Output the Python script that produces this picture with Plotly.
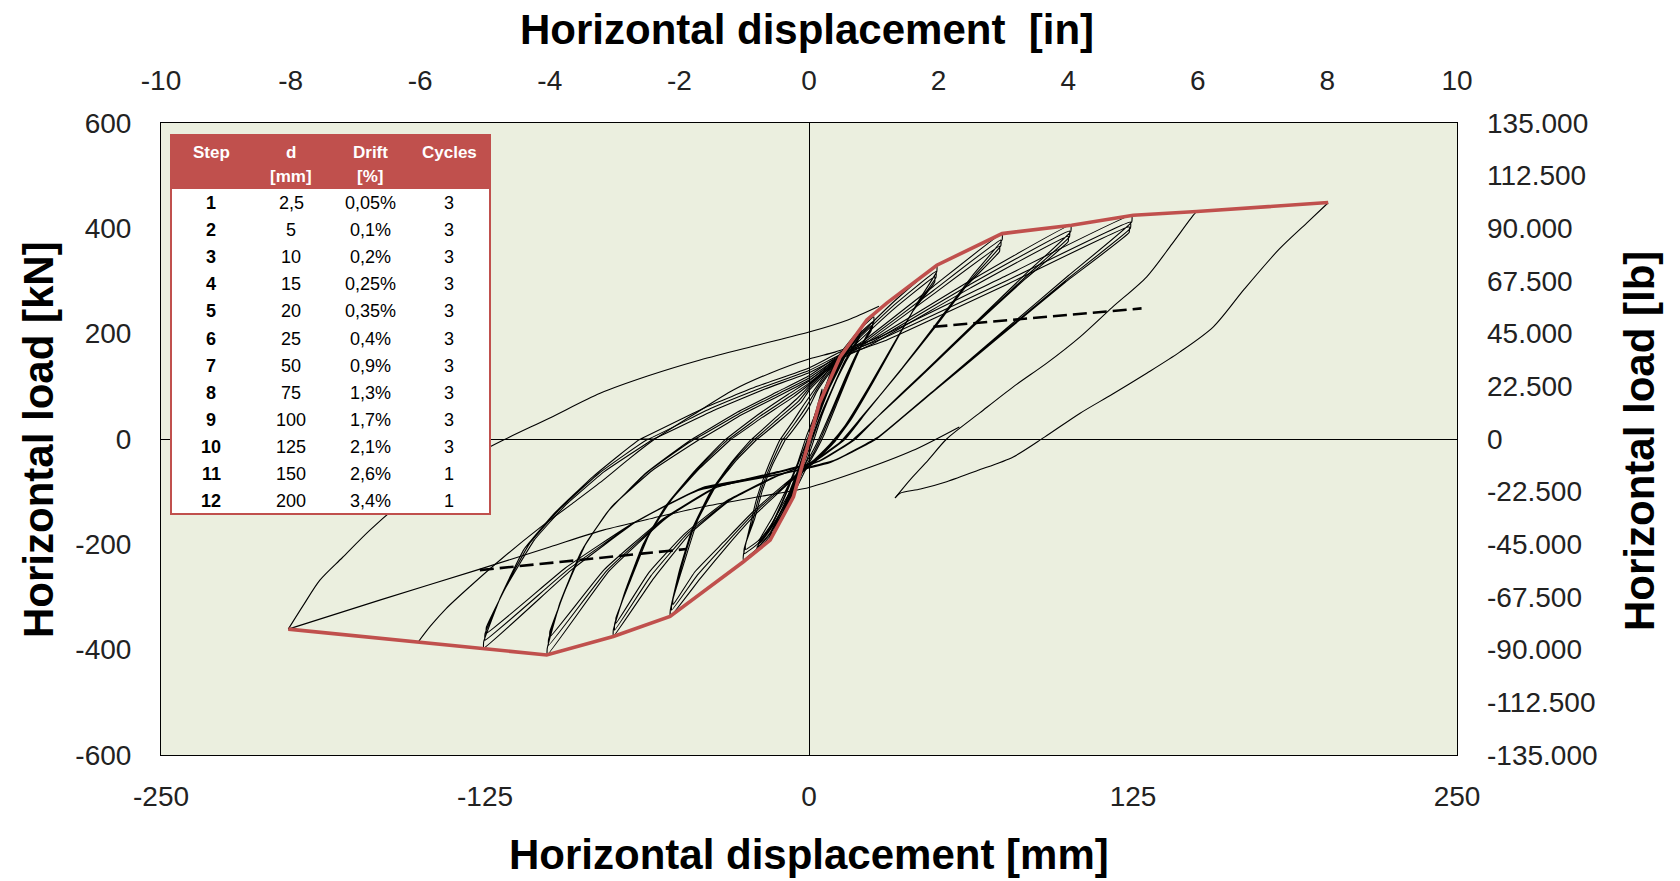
import plotly.graph_objects as go

# ---------------------------------------------------------------------------
# Axis ticks
# ---------------------------------------------------------------------------
MM_TICKS = [-250, -125, 0, 125, 250]
MM_LABELS = ["-250", "-125", "0", "125", "250"]
IN_TICKS = [-10, -8, -6, -4, -2, 0, 2, 4, 6, 8, 10]
IN_LABELS = ["-10", "-8", "-6", "-4", "-2", "0", "2", "4", "6", "8", "10"]
KN_TICKS = [-600, -400, -200, 0, 200, 400, 600]
KN_LABELS = ["-600", "-400", "-200", "0", "200", "400", "600"]
LB_TICKS = [-135000, -112500, -90000, -67500, -45000, -22500, 0,
            22500, 45000, 67500, 90000, 112500, 135000]
LB_LABELS = ["-135.000", "-112.500", "-90.000", "-67.500", "-45.000", "-22.500", "0",
             "22.500", "45.000", "67.500", "90.000", "112.500", "135.000"]

# ---------------------------------------------------------------------------
# Loading protocol table
# ---------------------------------------------------------------------------
TABLE_HEAD_1 = ["Step", "d", "Drift", "Cycles"]
TABLE_HEAD_2 = ["", "[mm]", "[%]", ""]
STEP_NO = ["1", "2", "3", "4", "5", "6", "7", "8", "9", "10", "11", "12"]
STEP_D = ["2,5", "5", "10", "15", "20", "25", "50", "75", "100", "125", "150", "200"]
STEP_DRIFT = ["0,05%", "0,1%", "0,2%", "0,25%", "0,35%", "0,4%", "0,9%", "1,3%",
              "1,7%", "2,1%", "2,6%", "3,4%"]
STEP_CYCLES = ["3", "3", "3", "3", "3", "3", "3", "3", "3", "3", "1", "1"]

# ---------------------------------------------------------------------------
# Envelope (mm, kN)
# ---------------------------------------------------------------------------
ENV_X = [-200.9, -150.7, -125.7, -101.2, -75.5, -53.6, -25.3, -15.0, -6.0, 0.0,
         4.0, 12.0, 22.3, 30.0, 49.3, 74.5, 101.3, 125.1, 149.6, 200.3]
ENV_Y = [-361, -385, -397, -410, -375, -337, -233, -192, -110, -5,
         68, 156, 226, 258, 330, 390, 406, 425, 432, 449]

# Residual-strength dashed lines (mm, kN)
DASH_POS_X = [48.0, 128.3]
DASH_POS_Y = [213, 248]
DASH_NEG_X = [-127.0, -47.3]
DASH_NEG_Y = [-249, -209]

# ---------------------------------------------------------------------------
# Hysteresis cycles (mm, kN)
# ---------------------------------------------------------------------------
STEP_2_5 = [(0, 0), (1.2, 25), (2.5, 48), (2.5, 44), (0, 0), (-1.2, -22), (-2.5, -45),
            (-2.5, -41), (0, 0), (1.2, 22), (2.4, 44), (2.4, 40), (0, -3), (-2.4, -41),
            (-2.4, -37), (0, 0)]

STEP_5 = [(0, 0), (2.5, 48), (5, 95), (5, 89), (2, 42), (-1, -12), (-3, -55), (-5, -92),
          (-5, -86), (-2, -38), (1, 15), (3, 58), (4.9, 89), (4.9, 83), (2, 35), (-1, -18),
          (-3, -58), (-4.9, -86), (-4.9, -80), (-2, -30), (0, 0)]

STEP_10 = [(0, 0), (4, 66), (10, 148), (10, 141), (6, 96), (2, 35), (-2, -32), (-6, -95),
           (-10, -150), (-10, -143), (-6, -90), (-2, -28), (2, 36), (6, 95), (9.8, 142),
           (9.8, 135), (5, 78), (1, 12), (-3, -48), (-7, -105), (-9.8, -143), (-9.8, -136),
           (-5, -72), (0, 0)]

STEP_15 = [(0, 0), (4, 66), (9, 125), (15, 180), (15, 172), (10, 128), (5, 65), (0, -5),
           (-5, -85), (-10, -145), (-15, -190), (-15, -182), (-10, -132), (-5, -70), (0, 5),
           (5, 72), (10, 130), (14.5, 172), (14.5, 165), (9, 112), (4, 50), (-1, -18),
           (-6, -92), (-11, -148), (-14.5, -182), (-14.5, -175), (-9, -118), (-4, -55),
           (1, 10), (6, 80), (11, 135), (14, 165), (14, 158), (8, 98), (3, 35), (0, 0)]

STEP_20 = [(0, 0), (4, 70), (9, 128), (14, 170), (20, 208), (20, 200), (15, 158), (10, 105),
           (5, 45), (1, -15), (-4, -80), (-9, -135), (-14, -178), (-20, -212), (-20, -205),
           (-15, -170), (-10, -118), (-5, -55), (-1, 5), (4, 65), (9, 122), (14, 165),
           (19.5, 200), (19.5, 193), (14, 150), (9, 96), (4, 38), (0, -20), (-5, -85),
           (-10, -138), (-15, -178), (-19.5, -205), (-19.5, -198), (-14, -158), (-9, -104),
           (-4, -45), (0, 8), (5, 72), (10, 128), (15, 168), (19, 195), (19, 188), (14, 145),
           (8, 85), (3, 28), (-1, -25), (-6, -92), (-11, -140), (-16, -180), (-19, -198),
           (-19, -191), (-14, -148), (-8, -88), (-3, -30), (0, 0)]

STEP_25 = [(-11, 0), (-6, 35), (-2, 65), (3, 100), (8, 135), (14, 175), (19, 205), (25, 232),
           (25, 222), (21, 185), (16, 130), (11, 70), (6, 10), (3, -20), (-1, -55), (-5, -95),
           (-10, -140), (-15, -180), (-20, -208), (-25.3, -230), (-25.3, -220), (-23, -170),
           (-20, -110), (-16, -55), (-11, 0),
           (-10, 0), (-5, 33), (-1, 62), (3, 95), (8, 130), (14, 170), (19, 198), (24.5, 222),
           (24.5, 212), (20, 175), (15, 122), (10, 64), (5, 6), (2, -24), (-2, -58), (-6, -97),
           (-11, -140), (-16, -178), (-20, -200), (-25, -218), (-25, -208), (-22, -160),
           (-19, -104), (-15, -52), (-10, 0),
           (-9, 0), (-4, 31), (0, 60), (3, 90), (8, 126), (14, 165), (19, 193), (24, 215),
           (24, 206), (19, 168), (14, 116), (9, 58), (4, 2), (1, -27), (-3, -60), (-7, -98),
           (-12, -140), (-16, -175), (-20, -195), (-24.5, -210), (-24.5, -200), (-21, -152),
           (-18, -98), (-14, -48), (-9, 0)]

STEP_50 = [(-22, 0), (-13, 40), (-5, 75), (0, 100), (8, 140), (18, 190), (33, 262), (49.3, 330),
           (49.3, 318), (42, 260), (34, 190), (25, 110), (16, 35), (10, -5), (2, -45), (-8, -85),
           (-20, -140), (-31, -200), (-42, -265), (-53.5, -337), (-53.5, -325), (-50, -250),
           (-45, -170), (-38, -100), (-30, -45), (-22, 0),
           (-21, 0), (-12, 38), (-4, 72), (0, 96), (8, 136), (18, 185), (33, 255), (49, 318),
           (49, 307), (41, 250), (33, 182), (24, 104), (15, 30), (9, -8), (1, -47), (-9, -87),
           (-21, -140), (-32, -198), (-43, -258), (-53, -325), (-53, -314), (-49, -240),
           (-44, -162), (-37, -95), (-29, -42), (-21, 0),
           (-20, 0), (-11, 36), (-3, 70), (0, 92), (8, 132), (18, 180), (33, 248), (48.5, 308),
           (48.5, 298), (40, 242), (32, 175), (23, 98), (14, 26), (8, -10), (0, -48), (-10, -88),
           (-22, -140), (-33, -196), (-44, -252), (-52.5, -315), (-52.5, -305), (-48, -232),
           (-43, -155), (-36, -90), (-28, -40), (-20, 0)]

STEP_75 = [(-32, 0), (-20, 45), (-8, 85), (0, 110), (10, 150), (22, 190), (48, 290), (74.5, 390),
           (74.5, 378), (63, 310), (50, 225), (36, 135), (22, 50), (14, 0), (3, -40), (-12, -70),
           (-30, -115), (-46, -180), (-60, -265), (-75.5, -375), (-75.5, -363), (-71, -290),
           (-64, -200), (-55, -125), (-44, -60), (-32, 0),
           (-31, 0), (-19, 43), (-7, 82), (0, 106), (10, 146), (22, 186), (48, 282), (74, 378),
           (74, 367), (62, 300), (49, 216), (35, 128), (21, 45), (13, -3), (2, -42), (-13, -72),
           (-31, -117), (-47, -180), (-61, -260), (-75, -363), (-75, -352), (-70, -280),
           (-63, -192), (-54, -120), (-43, -57), (-31, 0),
           (-30, 0), (-18, 41), (-6, 80), (0, 103), (10, 143), (22, 182), (48, 275), (73.5, 366),
           (73.5, 356), (61, 292), (48, 208), (34, 122), (20, 40), (12, -6), (1, -44), (-14, -73),
           (-32, -118), (-48, -180), (-62, -255), (-74.5, -350), (-74.5, -340), (-69, -270),
           (-62, -185), (-53, -115), (-42, -55), (-30, 0)]

STEP_100 = [(-45, 0), (-28, 50), (-12, 90), (0, 120), (12, 160), (25, 190), (62, 300), (101, 406),
            (101, 394), (85, 320), (65, 225), (45, 130), (28, 50), (18, 0), (5, -40), (-12, -62),
            (-35, -90), (-55, -150), (-77, -250), (-101, -410), (-101, -398), (-96, -310),
            (-88, -215), (-78, -140), (-63, -65), (-45, 0),
            (-44, 0), (-27, 48), (-11, 88), (0, 116), (12, 156), (25, 186), (62, 293), (100.5, 395),
            (100.5, 384), (84, 310), (64, 218), (44, 124), (27, 45), (17, -3), (4, -42), (-13, -64),
            (-36, -92), (-56, -152), (-78, -250), (-100.5, -392), (-100.5, -381), (-95, -298),
            (-87, -206), (-77, -134), (-62, -62), (-44, 0),
            (-42, 0), (-26, 46), (-10, 86), (0, 112), (12, 152), (25, 182), (62, 286), (100, 385),
            (100, 375), (83, 302), (63, 212), (43, 118), (26, 40), (16, -5), (3, -44), (-14, -66),
            (-37, -94), (-57, -154), (-79, -248), (-100, -376), (-100, -366), (-94, -287),
            (-86, -198), (-76, -128), (-60, -58), (-42, 0)]

STEP_125 = [(-65, 0), (-40, 60), (-20, 100), (0, 135), (12, 165), (28, 195), (76, 310), (124.5, 425),
            (124.5, 412), (100, 310), (75, 205), (50, 100), (27, 5), (10, -40), (-10, -65),
            (-41, -92), (-66, -155), (-92, -250), (-125.5, -397), (-125.5, -385), (-119, -300),
            (-110, -210), (-98, -140), (-83, -70), (-65, 0),
            (-62, 0), (-38, 58), (-18, 98), (0, 130), (12, 160), (28, 190), (76, 300), (124, 412),
            (124, 400), (100, 305), (74, 198), (49, 95), (26, 0), (9, -42), (-11, -66),
            (-42, -95), (-67, -158), (-93, -248), (-125, -382), (-125, -370), (-118, -290),
            (-108, -200), (-96, -132), (-81, -65), (-62, 0),
            (-60, 0), (-36, 56), (-17, 95), (0, 126), (12, 156), (29, 186), (77, 295), (123.5, 403),
            (123.5, 392), (99, 298), (73, 192), (48, 90), (25, -3), (8, -45), (-12, -68),
            (-43, -98), (-68, -160), (-94, -245), (-124.5, -369), (-124.5, -358), (-117, -282),
            (-106, -192), (-94, -126), (-79, -62), (-60, 0)]

# Large-amplitude branches (steps 11 and 12)
BRANCH_NEG200_RELOAD = [(-200.9, -361), (-195, -315), (-188.7, -268), (-180, -225), (-169.4, -173),
                        (-157, -120), (-143.6, -71.5), (-130, -33), (-117.9, -2), (-100, 40),
                        (-80.6, 86.8), (-62, 120), (-42, 150), (-20, 178), (0, 203), (15, 226),
                        (27, 252)]
BRANCH_NEG150_RELOAD = [(-150.7, -385), (-146, -355), (-140, -322), (-130.8, -280), (-118, -225),
                        (-105, -173), (-92, -125), (-79.4, -78), (-70, -40), (-60, -2), (-45, 45),
                        (-29.2, 93), (-15, 125), (0, 152), (10, 165), (22, 185)]
BRANCH_POS200_UNLOAD = [(200.3, 448.6), (192, 410), (181.3, 360), (168, 285), (156, 213),
                        (143, 165), (130.3, 125), (117, 85), (104.6, 49), (91, 4), (78.8, -34),
                        (65, -60), (53.1, -81), (43, -95), (35.1, -103), (33.2, -112)]
BRANCH_POS150 = [(33.2, -112), (36, -95), (40, -72), (46, -40), (53.1, 0), (66, 50), (78.8, 99),
                 (92, 145), (104.6, 194), (117, 250), (130.3, 308), (140, 370), (148.3, 425),
                 (149.6, 431.6)]
BRANCH_TO_NEG200 = [(-200.9, -361), (-165, -305), (-128.2, -249), (-100, -205), (-79.4, -173),
                    (-60, -150), (-40.8, -128.5), (-20, -110), (0, -92), (20, -60), (40, -22),
                    (58, 23)]

CYCLE_PATHS = [STEP_2_5, STEP_5, STEP_10, STEP_15, STEP_20, STEP_25, STEP_50, STEP_75,
               STEP_100, STEP_125]
BRANCH_PATHS = [BRANCH_NEG200_RELOAD, BRANCH_NEG150_RELOAD, BRANCH_POS200_UNLOAD,
                BRANCH_POS150, BRANCH_TO_NEG200]

# ---------------------------------------------------------------------------
# Figure
# ---------------------------------------------------------------------------
W, H = 1680, 881
PL, PR, PT, PB = 161, 1457, 123, 755   # plot frame in pixels
RED = "#c0504d"
FONT = "Liberation Sans"


def px(x):
    return (x - PL) / (PR - PL)


def py(y):
    return (PB - y) / (PB - PT)


fig = go.Figure()


def add_path(path, smoothing):
    fig.add_trace(go.Scatter(
        x=[p[0] for p in path], y=[p[1] for p in path], mode="lines",
        line=dict(color="black", width=1.1, shape="spline", smoothing=smoothing),
        hoverinfo="skip", showlegend=False))


for path in CYCLE_PATHS:
    add_path(path, 0.35)
for path in BRANCH_PATHS:
    add_path(path, 0.8)

for dx, dy in ((DASH_POS_X, DASH_POS_Y), (DASH_NEG_X, DASH_NEG_Y)):
    fig.add_trace(go.Scatter(
        x=dx, y=dy, mode="lines", line=dict(color="black", width=2.6, dash="14px,6px"),
        hoverinfo="skip", showlegend=False))

fig.add_trace(go.Scatter(
    x=ENV_X, y=ENV_Y, mode="lines", line=dict(color=RED, width=3.6),
    hoverinfo="skip", showlegend=False))

# carrier for the inch / pound axes
fig.add_trace(go.Scatter(
    x=[0], y=[0], xaxis="x2", yaxis="y2", mode="markers",
    marker=dict(opacity=0), hoverinfo="skip", showlegend=False))

tickfont = dict(family=FONT, size=28, color="#222222")
fig.update_layout(
    width=W, height=H, autosize=False,
    margin=dict(l=PL, r=W - PR, t=PT, b=H - PB, pad=0),
    paper_bgcolor="white", plot_bgcolor="#ebefdf", showlegend=False,
    xaxis=dict(range=[-250, 250], tickvals=MM_TICKS, ticktext=MM_LABELS, showgrid=False,
               zeroline=True, zerolinecolor="black", zerolinewidth=1,
               showline=True, linecolor="black", linewidth=1, mirror=True, ticks="",
               tickfont=tickfont, ticklabelstandoff=16),
    xaxis2=dict(range=[-10, 10], overlaying="x", side="top", anchor="y",
                tickvals=IN_TICKS, ticktext=IN_LABELS, showgrid=False, zeroline=False,
                showline=False, ticks="", tickfont=tickfont, ticklabelstandoff=26),
    yaxis=dict(range=[-600, 600], tickvals=KN_TICKS, ticktext=KN_LABELS, showgrid=False,
               zeroline=True, zerolinecolor="black", zerolinewidth=1,
               showline=True, linecolor="black", linewidth=1, mirror=True, ticks="",
               tickfont=tickfont, ticklabelstandoff=23),
    yaxis2=dict(range=[-135000, 135000], overlaying="y", side="right", anchor="x",
                tickvals=LB_TICKS, ticktext=LB_LABELS, showgrid=False, zeroline=False,
                showline=False, ticks="", tickfont=tickfont, ticklabelstandoff=29),
)

# Axis titles
title_font = dict(family=FONT, size=42, color="black")
annotations = [
    dict(text="<b>Horizontal displacement  [in]</b>", x=px(807), y=py(29)),
    dict(text="<b>Horizontal displacement [mm]</b>", x=px(809), y=py(854)),
    dict(text="<b>Horizontal load [kN]</b>", x=px(38), y=py(440), textangle=-90),
    dict(text="<b>Horizontal load [lb]</b>", x=px(1639), y=py(441), textangle=-90),
]
for a in annotations:
    a.update(xref="paper", yref="paper", xanchor="center", yanchor="middle",
             showarrow=False, font=title_font)

# Loading protocol table
TL, TR, TT, TB, THB = 171, 490, 135, 514, 188
shapes = [
    dict(type="rect", xref="paper", yref="paper", x0=px(TL), x1=px(TR), y0=py(TB), y1=py(TT),
         fillcolor="white", line=dict(color=RED, width=2), layer="above"),
    dict(type="rect", xref="paper", yref="paper", x0=px(TL), x1=px(TR), y0=py(THB), y1=py(TT),
         fillcolor=RED, line=dict(color=RED, width=2), layer="above"),
]
col_x = [211, 291, 370, 449]
head_font = dict(family=FONT, size=17, color="white")
for i, cx in enumerate(col_x):
    for txt, yy in ((TABLE_HEAD_1[i], 152), (TABLE_HEAD_2[i], 176)):
        if txt:
            annotations.append(dict(text="<b>%s</b>" % txt, x=px(cx), y=py(yy), xref="paper",
                                    yref="paper", xanchor="center", yanchor="middle",
                                    showarrow=False, font=head_font))
cell_font = dict(family=FONT, size=18, color="black")
for r in range(len(STEP_NO)):
    yy = 203 + 27.1 * r
    cells = ["<b>%s</b>" % STEP_NO[r], STEP_D[r], STEP_DRIFT[r], STEP_CYCLES[r]]
    for cx, txt in zip(col_x, cells):
        annotations.append(dict(text=txt, x=px(cx), y=py(yy), xref="paper", yref="paper",
                                xanchor="center", yanchor="middle", showarrow=False,
                                font=cell_font))

fig.update_layout(annotations=annotations, shapes=shapes)
fig.write_html("out.html")
